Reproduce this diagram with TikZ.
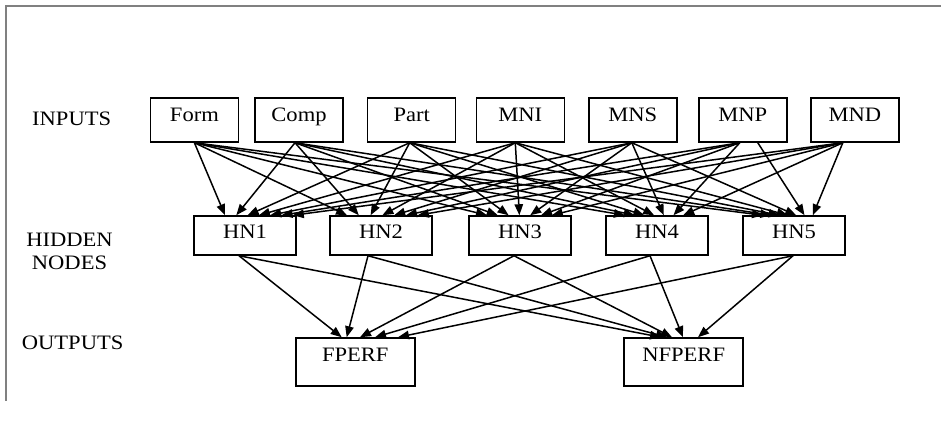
\documentclass[tikz,border=0pt]{standalone}
\usepackage{fontspec}
\setmainfont{Liberation Serif}[FakeStretch=1.1]
\usetikzlibrary{arrows.meta}

\begin{document}
\begin{tikzpicture}[x=1pt, y=-1pt,
  every node/.style={font=\fontsize{20.5}{22}\selectfont},
  box/.style={draw, line width=1.5pt, inner sep=0pt, text height=13.6pt},
  inbox/.style={box, minimum width=88pt, minimum height=44pt, text depth=10.2pt},
  hidbox/.style={box, minimum width=102pt, minimum height=39pt, text depth=7.8pt},
  outbox/.style={box, minimum width=119pt, minimum height=48pt, text depth=14.2pt},
  layerlabel/.style={inner sep=0pt, anchor=base west},
  edge/.style={line width=1.5pt, -{Triangle[length=11pt, width=8.5pt]}},
  frameline/.style={draw=black!50, line width=1.4pt}]

\useasboundingbox (0,0) rectangle (941,428);
\fill[white] (0,0) rectangle (941,428);

% page frame (top and left rule)
\draw[frameline] (941,6) -- (6,6) -- (6,401);

% layer labels
\node[layerlabel] (lblin) at (32,125) {INPUTS};
\node[inner sep=0pt, anchor=base] (lblhid1) at (69.5,246.7) {HIDDEN};
\node[inner sep=0pt, anchor=base] (lblhid2) at (69.5,269) {NODES};
\node[layerlabel] (lblout) at (21.7,349.3) {OUTPUTS};

% input layer
\node[inbox] (form) at (194.4,120) {Form};
\node[inbox] (comp) at (299,120) {Comp};
\node[inbox] (part) at (411.7,120) {Part};
\node[inbox] (mni)  at (520.3,120) {MNI};
\node[inbox] (mns)  at (632.8,120) {MNS};
\node[inbox] (mnp)  at (742.8,120) {MNP};
\node[inbox] (mnd)  at (854.8,120) {MND};

% hidden layer
\node[hidbox] (hn1) at (245,235.5) {HN1};
\node[hidbox] (hn2) at (381,235.5) {HN2};
\node[hidbox] (hn3) at (520,235.5) {HN3};
\node[hidbox] (hn4) at (657,235.5) {HN4};
\node[hidbox] (hn5) at (794,235.5) {HN5};

% output layer
\node[outbox] (fperf)  at (355.3,362) {FPERF};
\node[outbox] (nfperf) at (683.7,362) {NFPERF};

% input -> hidden connections
\foreach \src/\dx/\dy [count=\i from 0] in
  {form/0/0, comp/-4/-4, part/-2/-2, mni/-5/-5, mns/-1/-1, mnp/-3/15, mnd/-12/-12}{
  \foreach \hid/\a/\s [count=\j] in
    {hn1/-20/11.3, hn2/-34/11.8, hn3/-33/10.8, hn4/-32/9.7, hn5/-31/8.3}{
    \pgfmathsetmacro\ex{\a+\i*\s}
    \pgfmathsetmacro\sx{\j==5 ? \dy : \dx}
    \draw[edge] ([xshift=\sx pt]\src.south) -- ([xshift=\ex pt]\hid.north);
  }
}

% hidden -> output connections
\foreach \hid/\dx/\fa/\na in
  {hn1/-6/-13.6/-22.7, hn2/-13/-8.6/-16.7, hn3/-6/4.7/-11.7,
   hn4/-7/19.7/-0.7, hn5/-1/42.7/14.3}{
  \draw[edge] ([xshift=\dx pt]\hid.south) -- ([xshift=\fa pt]fperf.north);
  \draw[edge] ([xshift=\dx pt]\hid.south) -- ([xshift=\na pt]nfperf.north);
}
\end{tikzpicture}
\end{document}
